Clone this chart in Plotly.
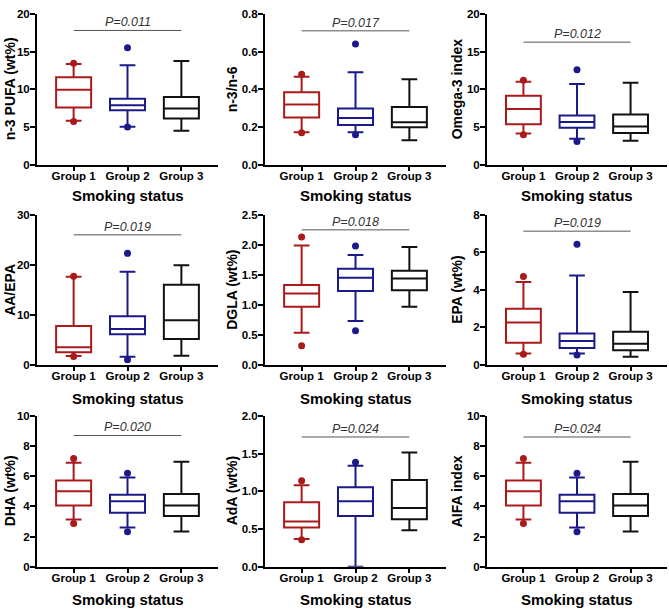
import plotly.graph_objects as go

GROUPS = ["Group 1", "Group 2", "Group 3"]
COLORS = ["#AA1A1A", "#1A1A8A", "#111111"]

Y_TITLES = ["n-3 PUFA (wt%)", "n-3/n-6", "Omega-3 index",
            "AA/EPA", "DGLA (wt%)", "EPA (wt%)",
            "DHA (wt%)", "AdA (wt%)", "AIFA index"]
P_TEXT = ["P=0.011", "P=0.017", "P=0.012",
          "P=0.019", "P=0.018", "P=0.019",
          "P=0.020", "P=0.024", "P=0.024"]
SIG_Y = [17.8, 0.71, 16.25, 26.0, 2.25, 7.13, 8.7, 1.72, 8.6]
Y_MAX = [20, 0.8, 20, 30, 2.5, 8, 10, 2.0, 10]
Y_DTICK = [5, 0.2, 5, 10, 0.5, 2, 2, 0.5, 2]
Y_FMT = ["d", ".1f", "d", "d", ".1f", "d", "d", ".1f", "d"]

Q1 = [[7.58, 7.23, 6.15], [0.251, 0.211, 0.199], [5.39, 4.91, 4.22],
      [2.5, 6.1, 5.17], [0.97, 1.23, 1.245], [1.18, 0.9, 0.78],
      [4.07, 3.59, 3.37], [0.52, 0.675, 0.632], [4.07, 3.59, 3.37]]
MEDIAN = [[9.95, 7.9, 7.45], [0.32, 0.248, 0.225], [7.41, 5.69, 5.09],
          [3.5, 7.15, 8.94], [1.19, 1.45, 1.44], [2.26, 1.27, 1.13],
          [5.0, 4.35, 4.07], [0.6, 0.87, 0.78], [5.0, 4.35, 4.07]]
Q3 = [[11.6, 8.75, 9.0], [0.384, 0.298, 0.306], [9.14, 6.55, 6.68],
      [7.75, 9.7, 16.0], [1.33, 1.6, 1.57], [2.99, 1.67, 1.77],
      [5.72, 4.78, 4.83], [0.857, 1.056, 1.15], [5.72, 4.78, 4.83]]
LOW = [[5.85, 5.06, 4.5], [0.173, 0.173, 0.13], [4.14, 3.45, 3.19],
       [1.75, 1.6, 1.8], [0.535, 0.73, 0.97], [0.61, 0.61, 0.43],
       [3.13, 2.61, 2.35], [0.37, 0.0, 0.485], [3.13, 2.61, 2.35]]
HIGH = [[13.35, 13.2, 13.75], [0.467, 0.49, 0.454], [11.0, 10.7, 10.86],
        [17.6, 18.6, 19.9], [1.99, 1.83, 1.965], [4.42, 4.77, 3.88],
        [6.89, 5.91, 6.96], [1.08, 1.34, 1.515], [6.89, 5.91, 6.96]]
# outliers per panel: [group1 values, group2 values, group3 values]
OUTLIERS = [[[13.45, 5.75], [15.5, 5.0], []],
            [[0.48, 0.17], [0.64, 0.16], []],
            [[11.2, 3.97], [12.6, 3.1], []],
            [[17.7, 1.65], [22.3, 1.0], []],
            [[2.13, 0.32], [1.98, 0.57], []],
            [[4.71, 0.57], [6.43, 0.52], []],
            [[7.17, 2.87], [6.2, 2.33], []],
            [[1.14, 0.36], [1.385], []],
            [[7.17, 2.87], [6.2, 2.33], []]]

W, H = 669, 616
COL_PX = [(37, 218), (265, 446), (487, 667)]
ROW_PX = [(8, 162), (213, 366), (418, 572)]
YTITLE_X = [10, 232, 457]
XTITLE_Y = [193, 400, 605]

FONT = "Liberation Sans, Arial, sans-serif"

fig = go.Figure()
annotations = []

for i in range(9):
    r, c = divmod(i, 3)
    ax = "" if i == 0 else str(i + 1)
    xref, yref = "x" + ax, "y" + ax
    for g in range(3):
        fig.add_trace(go.Box(
            x=[GROUPS[g]], q1=[Q1[i][g]], median=[MEDIAN[i][g]], q3=[Q3[i][g]],
            lowerfence=[LOW[i][g]], upperfence=[HIGH[i][g]],
            width=0.65, whiskerwidth=0.45,
            line=dict(color=COLORS[g], width=2), fillcolor="white",
            boxpoints=False, showlegend=False, hoverinfo="skip",
            xaxis=xref, yaxis=yref))
        if OUTLIERS[i][g]:
            fig.add_trace(go.Scatter(
                x=[GROUPS[g]] * len(OUTLIERS[i][g]), y=OUTLIERS[i][g],
                mode="markers", marker=dict(color=COLORS[g], size=7),
                showlegend=False, hoverinfo="skip", cliponaxis=False,
                xaxis=xref, yaxis=yref))
    fig.add_trace(go.Scatter(
        x=[GROUPS[0], GROUPS[2]], y=[SIG_Y[i], SIG_Y[i]], mode="lines",
        line=dict(color="#555555", width=1), showlegend=False,
        hoverinfo="skip", xaxis=xref, yaxis=yref))
    annotations.append(dict(
        x=GROUPS[1], y=SIG_Y[i], xref=xref, yref=yref, text=P_TEXT[i],
        showarrow=False, yanchor="bottom", yshift=-1,
        font=dict(family=FONT, size=12.5, color="#333333", style="italic")))

    x0, x1 = COL_PX[c]
    y0, y1 = ROW_PX[r]
    dom_x = [x0 / W, x1 / W]
    dom_y = [1 - y1 / H, 1 - y0 / H]
    fig.layout["xaxis" + ax] = dict(
        domain=dom_x, anchor=yref, type="category",
        categoryorder="array", categoryarray=GROUPS,
        range=[-0.68, 2.68], showline=True, linecolor="black", linewidth=2,
        ticks="outside", ticklen=4, tickwidth=2, tickcolor="black",
        ticklabelstandoff=-5,
        showgrid=False, zeroline=False,
        tickfont=dict(family=FONT, size=11.5, color="black", weight="bold"))
    fig.layout["yaxis" + ax] = dict(
        domain=dom_y, anchor=xref, range=[0, Y_MAX[i]],
        tick0=0, dtick=Y_DTICK[i], tickformat=Y_FMT[i],
        showline=True, linecolor="black", linewidth=2,
        ticks="outside", ticklen=5, tickwidth=2, tickcolor="black",
        ticklabelstandoff=-2,
        showgrid=False, zeroline=False,
        tickfont=dict(family=FONT, size=11.5, color="black", weight="bold"))

    annotations.append(dict(
        x=YTITLE_X[c] / W, y=1 - (y0 + y1) / 2 / H, xref="paper", yref="paper",
        text=Y_TITLES[i], textangle=-90, showarrow=False,
        xanchor="center", yanchor="middle",
        font=dict(family=FONT, size=14, color="black", weight="bold")))
    annotations.append(dict(
        x=(x0 + x1) / 2 / W, y=1 - XTITLE_Y[r] / H, xref="paper", yref="paper",
        text="Smoking status", showarrow=False,
        xanchor="center", yanchor="middle",
        font=dict(family=FONT, size=15, color="black", weight="bold")))

fig.update_layout(
    width=W, height=H, margin=dict(l=0, r=0, t=0, b=0),
    paper_bgcolor="white", plot_bgcolor="white",
    annotations=annotations, boxmode="overlay")

fig.write_html("out.html", config={"displayModeBar": False},
               post_script="document.body.style.margin='0';")
